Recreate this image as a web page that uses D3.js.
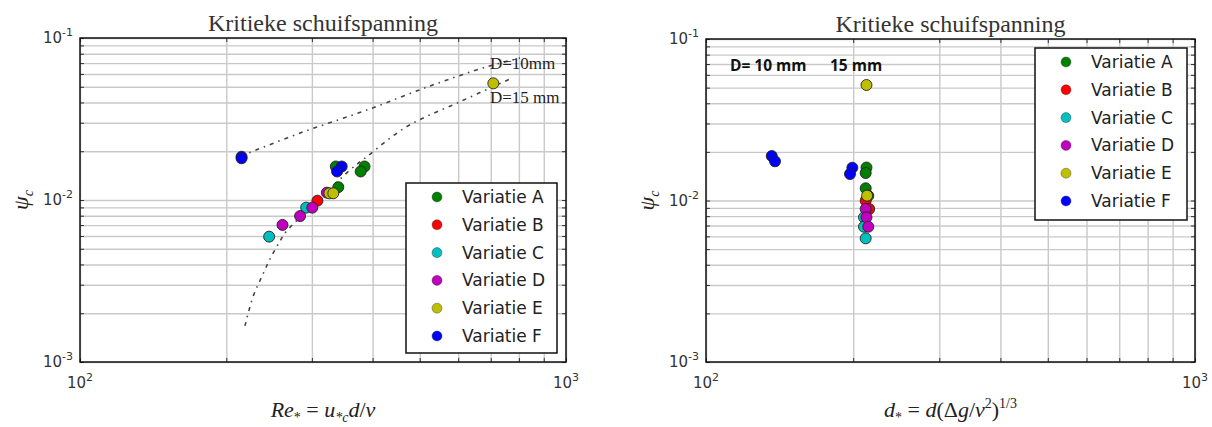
<!DOCTYPE html>
<html>
<head>
<meta charset="utf-8">
<script src="https://cdn.jsdelivr.net/npm/d3@7"></script>
<style>
  body { margin: 0; background: #fff; }
  svg { display: block; }
  .grid line { stroke: #c9c9c9; stroke-width: 1.4; }
  .grid path { display: none; }
  .ticks line { stroke: #333; stroke-width: 1; }
  .ticks path { display: none; }
  .tick-label { font-family: "DejaVu Sans", sans-serif; font-size: 15px; fill: #333; }
  .title { font-family: "Liberation Serif", "DejaVu Serif", serif; font-size: 24px; fill: #333; }
  .math { font-family: "Liberation Serif", "DejaVu Serif", serif; fill: #222; }
  .legend-text { font-family: "DejaVu Sans", sans-serif; font-size: 17px; fill: #222; }
</style>
</head>
<body>
<svg id="chart" width="1212" height="427"></svg>
<script>
var seriesNames = ["Variatie A", "Variatie B", "Variatie C", "Variatie D", "Variatie E", "Variatie F"];
var seriesColors = ["#008000", "#ff0000", "#00bfbf", "#bf00bf", "#bfbf00", "#0000ff"];
var xMajor = [100, 1000];
var yMajor = [0.001, 0.01, 0.1];
var yExp = ["-3", "-2", "-1"];
var xExp = ["2", "3"];

// left panel: Re* vs psi_c
var reA = [[336, 0.0161], [385, 0.0161], [378, 0.0150], [340, 0.0120]];
var reB = [[308, 0.0099]];
var reC = [[292, 0.00897], [245, 0.00594]];
var reD = [[322, 0.0111], [300.6, 0.00897], [283.7, 0.00796], [261, 0.00702]];
var reE = [[326, 0.0110], [332, 0.0110], [708.7, 0.0525]];
var reF = [[215, 0.0185], [215, 0.0181], [345.5, 0.0161], [338, 0.0150]];

// dash-dot curves
var curve10mm = [[214.5, 0.01869], [283.6, 0.0259], [389, 0.0359], [532, 0.0513], [688, 0.0665], [804, 0.0752]];
var curve15mm = [[218.5, 0.00167], [227, 0.00253], [236.5, 0.00335], [246, 0.00432], [258, 0.00558],
                 [265.4, 0.00637], [311.7, 0.01014], [359.4, 0.01532], [389, 0.0185], [470, 0.02835],
                 [605, 0.0404], [767, 0.0558]];

// right panel: d* vs psi_c
var dA = [[212.9, 0.0160], [212.1, 0.0148], [212.1, 0.0119], [214.7, 0.0107]];
var dB = [[212.1, 0.00997], [215.6, 0.00886]];
var dC = [[210.4, 0.00787], [210.4, 0.00688], [212.1, 0.00583]];
var dD = [[212.1, 0.00886], [212.9, 0.00787], [214.7, 0.00688]];
var dE = [[212.9, 0.0519], [213.5, 0.01072]];
var dF = [[136.3, 0.01886], [138.4, 0.01749], [199.2, 0.01596], [197, 0.01459]];

var svg = d3.select("#chart");

function drawPanel(box, groups, legendBox) {
  var width = box.x1 - box.x0;
  var height = box.y1 - box.y0;

  var x = d3.scaleLog().domain([100, 1000]).range([0, width]);
  var y = d3.scaleLog().domain([0.001, 0.1]).range([height, 0]);

  var g = svg.append("g")
    .attr("transform", "translate(" + box.x0 + "," + box.y0 + ")");

  // grid (major and minor)
  g.append("g")
    .attr("class", "grid")
    .attr("transform", "translate(0," + height + ")")
    .call(d3.axisBottom(x).tickSize(-height).tickFormat(""));
  g.append("g")
    .attr("class", "grid")
    .call(d3.axisLeft(y).tickSize(-width).tickFormat(""));

  // inward ticks on all sides
  g.append("g").attr("class", "ticks")
    .attr("transform", "translate(0," + height + ")")
    .call(d3.axisBottom(x).tickSizeInner(-4).tickSizeOuter(0).tickFormat(""));
  g.append("g").attr("class", "ticks")
    .call(d3.axisTop(x).tickSizeInner(-4).tickSizeOuter(0).tickFormat(""));
  g.append("g").attr("class", "ticks")
    .call(d3.axisLeft(y).tickSizeInner(-4).tickSizeOuter(0).tickFormat(""));
  g.append("g").attr("class", "ticks")
    .attr("transform", "translate(" + width + ",0)")
    .call(d3.axisRight(y).tickSizeInner(-4).tickSizeOuter(0).tickFormat(""));

  // tick labels
  xMajor.forEach(function(v, i) {
    var t = g.append("text")
      .attr("class", "tick-label")
      .attr("x", x(v))
      .attr("y", height + 26)
      .attr("text-anchor", "middle");
    t.append("tspan").text("10");
    t.append("tspan").attr("dy", -7).style("font-size", "11px").text(xExp[i]);
  });
  yMajor.forEach(function(v, i) {
    var t = g.append("text")
      .attr("class", "tick-label")
      .attr("x", -7)
      .attr("y", y(v) + 5)
      .attr("text-anchor", "end");
    t.append("tspan").text("10");
    t.append("tspan").attr("dy", -7).style("font-size", "11px").text(yExp[i]);
  });

  // frame
  g.append("rect")
    .attr("width", width)
    .attr("height", height)
    .attr("fill", "none")
    .attr("stroke", "#111")
    .attr("stroke-width", 1.5);

  // title
  g.append("text")
    .attr("class", "title")
    .attr("x", width / 2)
    .attr("y", -7)
    .attr("text-anchor", "middle")
    .text("Kritieke schuifspanning");

  // y label
  var yl = g.append("text")
    .attr("class", "math")
    .attr("transform", "translate(" + (-52) + "," + (height / 2) + ") rotate(-90)")
    .attr("text-anchor", "middle")
    .style("font-size", "22px");
  yl.append("tspan").style("font-style", "italic").text("ψ");
  yl.append("tspan").attr("dy", 5).style("font-size", "14px").style("font-style", "italic").text("c");

  var plot = g.append("g");

  groups.forEach(function(pts, i) {
    plot.selectAll(null)
      .data(pts)
      .enter()
      .append("circle")
      .attr("cx", function(d) { return x(d[0]); })
      .attr("cy", function(d) { return y(d[1]); })
      .attr("r", 5.5)
      .attr("fill", seriesColors[i])
      .attr("stroke", "#222")
      .attr("stroke-width", 0.9);
  });

  // legend
  var lg = g.append("g")
    .attr("transform", "translate(" + (legendBox.x - box.x0) + "," + (legendBox.y - box.y0) + ")");
  lg.append("rect")
    .attr("width", legendBox.w)
    .attr("height", legendBox.h)
    .attr("fill", "#fff")
    .attr("stroke", "#111")
    .attr("stroke-width", 1.5);
  seriesNames.forEach(function(name, i) {
    var cy = 14 + i * 27.8;
    lg.append("circle")
      .attr("cx", 31)
      .attr("cy", cy)
      .attr("r", 5)
      .attr("fill", seriesColors[i])
      .attr("stroke", "#333")
      .attr("stroke-width", 0.4);
    lg.append("text")
      .attr("class", "legend-text")
      .attr("x", 56)
      .attr("y", cy + 6)
      .text(name);
  });

  return {g: g, x: x, y: y, plot: plot, width: width, height: height};
}

// ---- left panel ----
var left = drawPanel({x0: 80, x1: 566, y0: 38, y1: 362},
  [reA, reB, reC, reD, reE, reF],
  {x: 406, y: 183, w: 151, h: 170});

var curveLine = d3.line()
  .x(function(d) { return left.x(d[0]); })
  .y(function(d) { return left.y(d[1]); })
  .curve(d3.curveCatmullRom);

[curve10mm, curve15mm].forEach(function(c) {
  left.plot.insert("path", ":first-child")
    .datum(c)
    .attr("d", curveLine)
    .attr("fill", "none")
    .attr("stroke", "#444")
    .attr("stroke-width", 1.6)
    .attr("stroke-dasharray", "4,5,1.5,5");
});

left.g.append("text")
  .attr("class", "math")
  .attr("x", 410)
  .attr("y", 31)
  .style("font-size", "17px")
  .text("D=10mm");
left.g.append("text")
  .attr("class", "math")
  .attr("x", 410)
  .attr("y", 65)
  .style("font-size", "17px")
  .text("D=15 mm");

var xl = left.g.append("text")
  .attr("class", "math")
  .attr("x", left.width / 2)
  .attr("y", left.height + 55)
  .attr("text-anchor", "middle")
  .style("font-size", "22px");
xl.append("tspan").style("font-style", "italic").text("Re");
xl.append("tspan").attr("dy", 5).style("font-size", "14px").text("*");
xl.append("tspan").attr("dy", -5).text(" = ");
xl.append("tspan").style("font-style", "italic").text("u");
xl.append("tspan").attr("dy", 5).style("font-size", "14px").style("font-style", "italic").text("*c");
xl.append("tspan").attr("dy", -5).style("font-style", "italic").text("d");
xl.append("tspan").text("/");
xl.append("tspan").style("font-style", "italic").text("v");

// ---- right panel ----
var right = drawPanel({x0: 706, x1: 1195, y0: 39, y1: 362},
  [dA, dB, dC, dD, dE, dF],
  {x: 1035, y: 48, w: 152, h: 172});

right.g.append("text")
  .attr("x", 24)
  .attr("y", 32)
  .style("font-family", "'Open Sans', sans-serif")
  .style("font-weight", "bold")
  .style("font-size", "15.5px")
  .style("fill", "#111")
  .text("D= 10 mm");
right.g.append("text")
  .attr("x", 124)
  .attr("y", 32)
  .style("font-family", "'Open Sans', sans-serif")
  .style("font-weight", "bold")
  .style("font-size", "15.5px")
  .style("fill", "#111")
  .text("15 mm");

var xr = right.g.append("text")
  .attr("class", "math")
  .attr("x", right.width / 2)
  .attr("y", right.height + 55)
  .attr("text-anchor", "middle")
  .style("font-size", "22px");
xr.append("tspan").style("font-style", "italic").text("d");
xr.append("tspan").attr("dy", 5).style("font-size", "14px").text("*");
xr.append("tspan").attr("dy", -5).text(" = ");
xr.append("tspan").style("font-style", "italic").text("d");
xr.append("tspan").text("(Δ");
xr.append("tspan").style("font-style", "italic").text("g");
xr.append("tspan").text("/");
xr.append("tspan").style("font-style", "italic").text("v");
xr.append("tspan").attr("dy", -9).style("font-size", "14px").text("2");
xr.append("tspan").attr("dy", 9).text(")");
xr.append("tspan").attr("dy", -9).style("font-size", "14px").text("1/3");
</script>
</body>
</html>
